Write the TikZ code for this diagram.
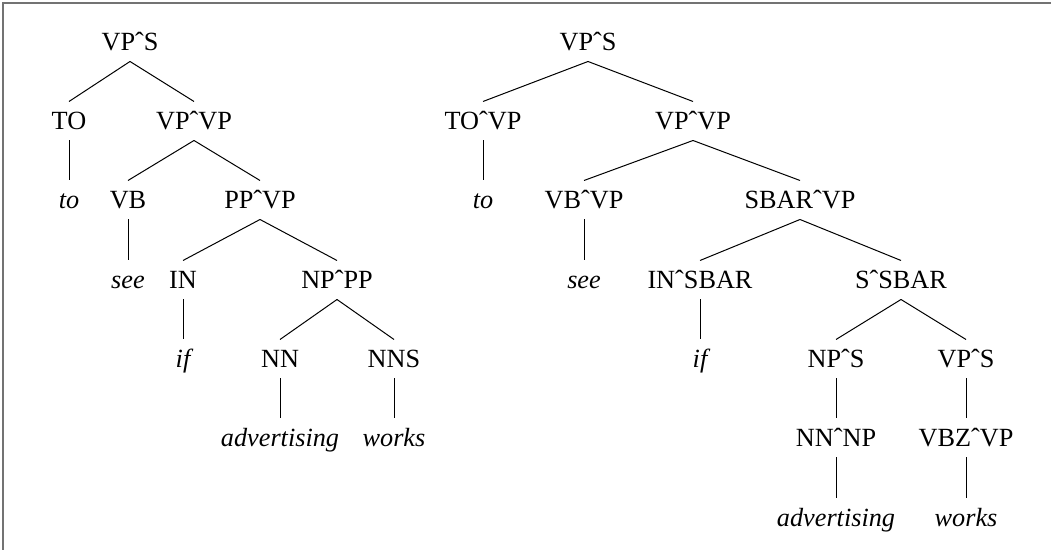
\documentclass[tikz,border=0pt]{standalone}
\usepackage{fontspec}
\setmainfont{Liberation Serif}
\begin{document}
\begin{tikzpicture} [x = 0.4pt, y = -0.4pt,
	cat/.style = {inner xsep = 0pt, inner ysep = 4.1pt, text height = 7pt, text depth = 0pt, font = \fontsize{10.5}{12}\selectfont},
	word/.style = {cat, font = \fontsize{10.5}{12}\selectfont\itshape}]
	\useasboundingbox (0,0) rectangle (1051,550);
	\draw [line width = 0.8pt, black!55] (3,550) -- (3,3) -- (1051,3);
	% left tree
	\node [cat] (lVPS) at (130,42) {VPˆS};
	\node [cat] (lTO) at (69,121) {TO};
	\node [cat] (lVPVP) at (194,121) {VPˆVP};
	\node [word] (lto) at (69,200) {to};
	\node [cat] (lVB) at (128,200) {VB};
	\node [cat] (lPPVP) at (260,200) {PPˆVP};
	\node [word] (lsee) at (128,280) {see};
	\node [cat] (lIN) at (183,280) {IN};
	\node [cat] (lNPPP) at (337,280) {NPˆPP};
	\node [word] (lif) at (183,359) {if};
	\node [cat] (lNN) at (280,359) {NN};
	\node [cat] (lNNS) at (394,359) {NNS};
	\node [word] (ladv) at (280,438) {advertising};
	\node [word] (lworks) at (394,438) {works};
	\foreach \p/\c in {lVPS/lTO, lVPS/lVPVP, lTO/lto, lVPVP/lVB, lVPVP/lPPVP, lVB/lsee,
		lPPVP/lIN, lPPVP/lNPPP, lIN/lif, lNPPP/lNN, lNPPP/lNNS, lNN/ladv, lNNS/lworks}
		\draw (\p.south) -- (\c.north);
	% right tree
	\node [cat] (rVPS) at (588,42) {VPˆS};
	\node [cat] (rTOVP) at (483,121) {TOˆVP};
	\node [cat] (rVPVP) at (693,121) {VPˆVP};
	\node [word] (rto) at (483,200) {to};
	\node [cat] (rVBVP) at (584,200) {VBˆVP};
	\node [cat] (rSBARVP) at (800,200) {SBARˆVP};
	\node [word] (rsee) at (584,280) {see};
	\node [cat] (rINSBAR) at (700,280) {INˆSBAR};
	\node [cat] (rSSBAR) at (901,280) {SˆSBAR};
	\node [word] (rif) at (700,359) {if};
	\node [cat] (rNPS) at (836,359) {NPˆS};
	\node [cat] (rVPSb) at (966,359) {VPˆS};
	\node [cat] (rNNNP) at (836,438) {NNˆNP};
	\node [cat] (rVBZVP) at (966,438) {VBZˆVP};
	\node [word] (radv) at (836,518) {advertising};
	\node [word] (rworks) at (966,518) {works};
	\foreach \p/\c in {rVPS/rTOVP, rVPS/rVPVP, rTOVP/rto, rVPVP/rVBVP, rVPVP/rSBARVP, rVBVP/rsee,
		rSBARVP/rINSBAR, rSBARVP/rSSBAR, rINSBAR/rif, rSSBAR/rNPS, rSSBAR/rVPSb,
		rNPS/rNNNP, rVPSb/rVBZVP, rNNNP/radv, rVBZVP/rworks}
		\draw (\p.south) -- (\c.north);
\end{tikzpicture}
\end{document}
